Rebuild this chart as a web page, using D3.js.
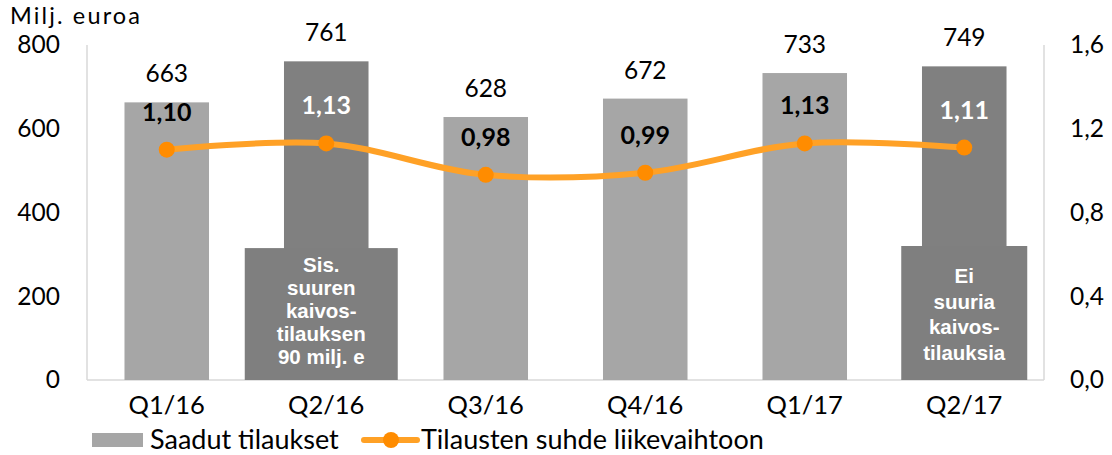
<!DOCTYPE html>
<html><head><meta charset="utf-8">
<script src="https://cdn.jsdelivr.net/npm/d3@7"></script>
<style>body{margin:0;background:#fff}svg{display:block}</style>
</head><body>
<svg id="c" width="1112" height="455"></svg>
<script>
const categories = ["Q1/16","Q2/16","Q3/16","Q4/16","Q1/17","Q2/17"];
const orders = [663, 761, 628, 672, 733, 749];
const ratio = [1.10, 1.13, 0.98, 0.99, 1.13, 1.11];
const ratioLabels = ["1,10","1,13","0,98","0,99","1,13","1,11"];
const highlighted = [false, true, false, false, false, true];
const leftTicks = [0, 200, 400, 600, 800];
const rightTicks = [0, 0.4, 0.8, 1.2, 1.6];
const notes = [{cat:"Q2/16", value:315, lines:["Sis.","suuren","kaivos-","tilauksen","90 milj. e"]},
               {cat:"Q2/17", value:320, lines:["Ei","suuria","kaivos-","tilauksia"]}];

const svg = d3.select("#c");
const FONT = "Lato, 'Open Sans', sans-serif";
const L = 87, R = 1044, T = 45, B = 380;
const x = d3.scaleBand().domain(categories).range([L, R]).paddingInner(0.47).paddingOuter(0.235);
const y = d3.scaleLinear().domain([0, 800]).range([B, T]);
const y2 = d3.scaleLinear().domain([0, 1.6]).range([B, T]);
const axisCol = "#d9d9d9";

svg.append("line").attr("x1", L).attr("x2", L).attr("y1", T).attr("y2", B).attr("stroke", axisCol).attr("stroke-width", 1.5);
svg.append("line").attr("x1", R).attr("x2", R).attr("y1", T).attr("y2", B).attr("stroke", axisCol).attr("stroke-width", 1.5);
svg.append("line").attr("x1", L).attr("x2", R).attr("y1", B).attr("y2", B).attr("stroke", axisCol).attr("stroke-width", 1.5);

function styleAxis(size) {
  return g => {
    g.select(".domain").remove();
    g.selectAll("text").style("font-size", size + "px").style("font-family", FONT).attr("fill", "#000");
  };
}
svg.append("g").attr("transform", `translate(${L},0)`)
  .call(d3.axisLeft(y).tickValues(leftTicks).tickSize(0).tickPadding(27).tickFormat(d3.format("d"))).call(styleAxis(24.5));
const fmtR = d => d3.format(".1f")(d).replace(".", ",");
svg.append("g").attr("transform", `translate(${R},0)`)
  .call(d3.axisRight(y2).tickValues(rightTicks).tickSize(0).tickPadding(26).tickFormat(fmtR)).call(styleAxis(24.5));
svg.append("g").attr("transform", `translate(0,${B})`)
  .call(d3.axisBottom(x).tickSize(0).tickPadding(16)).call(styleAxis(25.5));

svg.append("text").attr("x", 10).attr("y", 23.5).attr("textLength", 130).attr("lengthAdjust", "spacing")
  .style("font-size", "23.5px").style("font-family", FONT).text("Milj. euroa");

// bars
svg.selectAll("rect.bar").data(categories).join("rect").attr("class", "bar")
  .attr("x", d => x(d)).attr("width", x.bandwidth())
  .attr("y", (d, i) => y(orders[i])).attr("height", (d, i) => B - y(orders[i]))
  .attr("fill", (d, i) => highlighted[i] ? "#808080" : "#a6a6a6");

svg.selectAll("text.val").data(categories).join("text").attr("class", "val")
  .attr("x", d => x(d) + x.bandwidth() / 2).attr("y", (d, i) => y(orders[i]) - 20)
  .attr("text-anchor", "middle").style("font-size", "24.5px").style("font-family", FONT).text((d, i) => orders[i]);

// notes
notes.forEach((n, j) => {
  const cx = x(n.cat) + x.bandwidth() / 2;
  const w = j === 0 ? 153 : 126;
  const shift = j === 0 ? -5 : 0;
  const top = y(n.value);
  svg.append("rect").attr("x", cx - w / 2 + shift).attr("width", w).attr("y", top).attr("height", B - top).attr("fill", "#7f7f7f");
  const t = svg.append("text").attr("text-anchor", "middle").attr("fill", "#fff")
    .style("font-family", "'Liberation Sans', Arial, sans-serif").style("font-weight", "bold").style("font-size", "20.5px");
  const startY = j === 0 ? top + 24 : top + 37;
  const step = j === 0 ? 23 : 25.5;
  n.lines.forEach((s, k) => t.append("tspan").attr("x", cx + shift).attr("y", startY + k * step).text(s));
});

// line
const line = d3.line().x((d, i) => x(categories[i]) + x.bandwidth() / 2).y(d => y2(d)).curve(d3.curveCatmullRom.alpha(0.5));
svg.append("path").datum(ratio).attr("d", line).attr("fill", "none").attr("stroke", "#ffa126").attr("stroke-width", 6).attr("stroke-linecap", "round");
svg.selectAll("circle.pt").data(ratio).join("circle").attr("class", "pt")
  .attr("cx", (d, i) => x(categories[i]) + x.bandwidth() / 2).attr("cy", d => y2(d)).attr("r", 8).attr("fill", "#ff8c00");
svg.selectAll("text.rl").data(ratio).join("text").attr("class", "rl")
  .attr("x", (d, i) => x(categories[i]) + x.bandwidth() / 2).attr("y", d => y2(d) - 29)
  .attr("text-anchor", "middle").style("font-size", "25px").style("font-weight", "bold").style("font-family", FONT)
  .attr("fill", (d, i) => highlighted[i] ? "#fff" : "#000").text((d, i) => ratioLabels[i]);

// legend
svg.append("rect").attr("x", 92).attr("y", 433).attr("width", 51).attr("height", 14).attr("fill", "#a6a6a6");
svg.append("text").attr("x", 150).attr("y", 449).style("font-size", "27px").style("font-family", FONT).text("Saadut tilaukset");
svg.append("line").attr("x1", 364).attr("x2", 417).attr("y1", 440).attr("y2", 440).attr("stroke", "#ffa126").attr("stroke-width", 6).attr("stroke-linecap", "round");
svg.append("circle").attr("cx", 391).attr("cy", 440).attr("r", 8).attr("fill", "#ff8c00");
svg.append("text").attr("x", 421).attr("y", 449).style("font-size", "27px").style("font-family", FONT).text("Tilausten suhde liikevaihtoon");
</script>
</body></html>
